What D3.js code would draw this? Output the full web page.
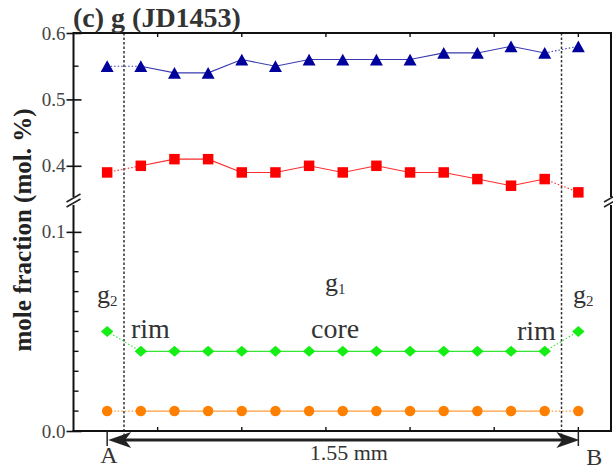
<!DOCTYPE html>
<html>
<head>
<meta charset="utf-8">
<script src="https://cdn.jsdelivr.net/npm/d3@7/dist/d3.min.js"></script>
<style>
  html, body { margin: 0; padding: 0; background: #fff; }
  svg { display: block; }
  text { font-family: "Liberation Serif", "Times New Roman", serif; }
</style>
</head>
<body>
<svg id="chart" width="613" height="472"></svg>
<script>
// Analysis points along the traverse A -> B
const pointNo = [1, 2, 3, 4, 5, 6, 7, 8, 9, 10, 11, 12, 13, 14, 15];

// Mole fractions of the four end-members at each point
const triSeries    = [0.55, 0.55, 0.54, 0.54, 0.56, 0.55, 0.56, 0.56, 0.56, 0.56, 0.57, 0.57, 0.58, 0.57, 0.58];
const squareSeries = [0.39, 0.40, 0.41, 0.41, 0.39, 0.39, 0.40, 0.39, 0.40, 0.39, 0.39, 0.38, 0.37, 0.38, 0.36];
const diamondSeries= [0.05, 0.04, 0.04, 0.04, 0.04, 0.04, 0.04, 0.04, 0.04, 0.04, 0.04, 0.04, 0.04, 0.04, 0.05];
const circleSeries = [0.01, 0.01, 0.01, 0.01, 0.01, 0.01, 0.01, 0.01, 0.01, 0.01, 0.01, 0.01, 0.01, 0.01, 0.01];

// Axis ticks
const xTicks = [2.5, 5, 7.5, 10, 12.5, 15];
const yTicksUpper = [0.4, 0.5, 0.6];
const yMinorUpper = [0.45, 0.55];
const yTicksLower = [0.0, 0.1];
const yMinorLower = [0.01, 0.02, 0.03, 0.04, 0.05, 0.06, 0.07, 0.08, 0.09];

// g1 / g2 boundaries along the traverse
const boundaries = [1.5, 14.5];

const svg = d3.select("#chart");
const L = 73.5, R = 612, T = 33, B = 431;
const breakTop = 199, breakBot = 202;

const x = d3.scaleLinear().domain([0, 16]).range([L, R]);
const yUp = d3.scaleLinear().domain([0.35, 0.6]).range([breakTop, T]);
const yLo = d3.scaleLinear().domain([0, 0.115]).range([B, breakBot]);
const y = v => (v >= 0.2 ? yUp(v) : yLo(v));

// custom marker shapes, size = full width in px
const triangle = { draw(ctx, s) { const h = s * 0.9; ctx.moveTo(0, -h / 2); ctx.lineTo(s / 2, h / 2); ctx.lineTo(-s / 2, h / 2); ctx.closePath(); } };
const square = { draw(ctx, s) { ctx.rect(-s / 2, -s / 2, s, s); } };
const diamond = { draw(ctx, s) { const w = s / 2, h = s * 0.44; ctx.moveTo(0, -h); ctx.lineTo(w, 0); ctx.lineTo(0, h); ctx.lineTo(-w, 0); ctx.closePath(); } };
const circle = { draw(ctx, s) { ctx.moveTo(s / 2, 0); ctx.arc(0, 0, s / 2, 0, 2 * Math.PI); } };

const series = [
  { values: triSeries,     shape: triangle, size: 13, fill: "#00009c", line: "#3a3ab0" },
  { values: squareSeries,  shape: square,   size: 10.5, fill: "#ff0000", line: "#ff2a2a" },
  { values: diamondSeries, shape: diamond,  size: 12.5, fill: "#14ee14", line: "#33e633" },
  { values: circleSeries,  shape: circle,   size: 10.5, fill: "#ff8000", line: "#ff9a3a" }
];

// boundaries (dotted)
svg.append("g").selectAll("line").data(boundaries).join("line")
  .attr("x1", d => x(d)).attr("x2", d => x(d))
  .attr("y1", T).attr("y2", B + 4)
  .attr("stroke", "#333").attr("stroke-width", 1.5)
  .attr("stroke-dasharray", "2.5,2");

// connecting lines
const lineGen = d3.line().x(d => x(d.p)).y(d => y(d.v));
series.forEach(s => {
  const pts = pointNo.map((p, i) => ({ p, v: s.values[i] }));
  const n = pts.length;
  svg.append("path").attr("d", lineGen(pts.slice(1, n - 1)))
    .attr("fill", "none").attr("stroke", s.line).attr("stroke-width", 1.1);
  [pts.slice(0, 2), pts.slice(n - 2)].forEach(seg => {
    svg.append("path").attr("d", lineGen(seg))
      .attr("fill", "none").attr("stroke", s.line).attr("stroke-width", 1.1)
      .attr("stroke-dasharray", "1.5,2");
  });
});

// markers
series.forEach(s => {
  const sym = d3.symbol().type(s.shape).size(s.size);
  svg.append("g").selectAll("path").data(pointNo.map((p, i) => ({ p, v: s.values[i] }))).join("path")
    .attr("transform", d => `translate(${x(d.p)},${y(d.v)})`)
    .attr("d", sym)
    .attr("fill", s.fill);
});

// frame
const frame = svg.append("g").attr("stroke", "#111").attr("stroke-width", 2).attr("fill", "none");
frame.append("line").attr("x1", L - 1).attr("x2", R).attr("y1", T).attr("y2", T);
frame.append("line").attr("x1", L - 1).attr("x2", R).attr("y1", B).attr("y2", B);
frame.append("line").attr("x1", L).attr("x2", L).attr("y1", T).attr("y2", breakTop - 2);
frame.append("line").attr("x1", L).attr("x2", L).attr("y1", breakBot + 3).attr("y2", B);
frame.append("line").attr("x1", R - 1).attr("x2", R - 1).attr("y1", T).attr("y2", breakTop - 2);
frame.append("line").attr("x1", R - 1).attr("x2", R - 1).attr("y1", breakBot + 3).attr("y2", B);

// break marks
[L, R - 1].forEach(cx => {
  const cy = (breakTop + breakBot) / 2;
  [-2.5, 2.5].forEach(off => {
    svg.append("line")
      .attr("x1", cx - 7).attr("y1", cy + off + 4)
      .attr("x2", cx + 7).attr("y2", cy + off - 4)
      .attr("stroke", "#222").attr("stroke-width", 1.6);
  });
});

// y axes
function styleAxis(g) {
  g.select(".domain").remove();
  g.selectAll(".tick line").attr("x1", -7).attr("x2", 8).attr("stroke", "#111").attr("stroke-width", 1.6);
  g.selectAll(".tick text").attr("x", -8).attr("fill", "#444")
    .style("font-size", "19px").style("font-family", "Liberation Serif, serif");
}
svg.append("g").attr("transform", `translate(${L},0)`)
  .call(d3.axisLeft(yUp).tickValues(yTicksUpper).tickFormat(d3.format(".1f")))
  .call(styleAxis);
svg.append("g").attr("transform", `translate(${L},0)`)
  .call(d3.axisLeft(yLo).tickValues(yTicksLower).tickFormat(d3.format(".1f")))
  .call(styleAxis);

// minor y ticks (inward)
svg.append("g").selectAll("line")
  .data(yMinorUpper.map(yUp).concat(yMinorLower.map(yLo))).join("line")
  .attr("x1", L).attr("x2", L + 5).attr("y1", d => d).attr("y2", d => d)
  .attr("stroke", "#111").attr("stroke-width", 1.4);

// x ticks, inward on top and bottom
svg.append("g").selectAll("line").data(xTicks).join("line")
  .attr("x1", d => x(d)).attr("x2", d => x(d)).attr("y1", T).attr("y2", T + 4)
  .attr("stroke", "#111").attr("stroke-width", 1.4);
svg.append("g").selectAll("line").data(xTicks).join("line")
  .attr("x1", d => x(d)).attr("x2", d => x(d)).attr("y1", B).attr("y2", B - 4)
  .attr("stroke", "#111").attr("stroke-width", 1.4);

// traverse arrow A <-> B
const xa = x(pointNo[0]), xb = x(pointNo[pointNo.length - 1]);
const ay = 440;
svg.append("line").attr("x1", xa + 14).attr("x2", xb - 14).attr("y1", ay).attr("y2", ay)
  .attr("stroke", "#222").attr("stroke-width", 3.2);
const head = "M0,0 L23,-8 L17,0 L23,8 Z";
svg.append("path").attr("d", head).attr("transform", `translate(${xa + 1},${ay})`).attr("fill", "#222");
svg.append("path").attr("d", head).attr("transform", `translate(${xb + 1},${ay}) scale(-1,1)`).attr("fill", "#222");
[xa, xb].forEach(px => {
  svg.append("line").attr("x1", px).attr("x2", px).attr("y1", B).attr("y2", B + 15)
    .attr("stroke", "#222").attr("stroke-width", 1.5);
});

const annot = svg.append("g").attr("fill", "#333").style("font-size", "24px");
annot.append("text").attr("x", xa - 7).attr("y", 463).text("A");
annot.append("text").attr("x", xb + 8).attr("y", 465).text("B");
annot.append("text").attr("x", (xa + xb) / 2 + 6).attr("y", 460).attr("text-anchor", "middle")
  .style("font-size", "22px").text("1.55 mm");

// zone labels
function gLabel(xp, yp, sub) {
  const t = annot.append("text").attr("x", xp).attr("y", yp).style("font-size", "26px");
  t.append("tspan").text("g");
  t.append("tspan").attr("dy", 3).style("font-size", "15px").text(sub);
}
gLabel(97, 303, "2");
gLabel(573, 303, "2");
gLabel(325, 291, "1");
annot.append("text").attr("x", 131).attr("y", 338).style("font-size", "28px").text("rim");
annot.append("text").attr("x", 311).attr("y", 338).style("font-size", "28px").text("core");
annot.append("text").attr("x", 517).attr("y", 340).style("font-size", "28px").text("rim");

// title
svg.append("text").attr("x", 73).attr("y", 27)
  .attr("fill", "#333").style("font-size", "28px").style("font-weight", "bold")
  .text("(c) g (JD1453)");

// y-axis title
svg.append("text")
  .attr("transform", `translate(31,${(103 + 357) / 2}) rotate(-90)`)
  .attr("text-anchor", "middle").attr("fill", "#222")
  .style("font-size", "25px").style("font-weight", "bold")
  .text("mole fraction (mol. %)");
</script>
</body>
</html>
